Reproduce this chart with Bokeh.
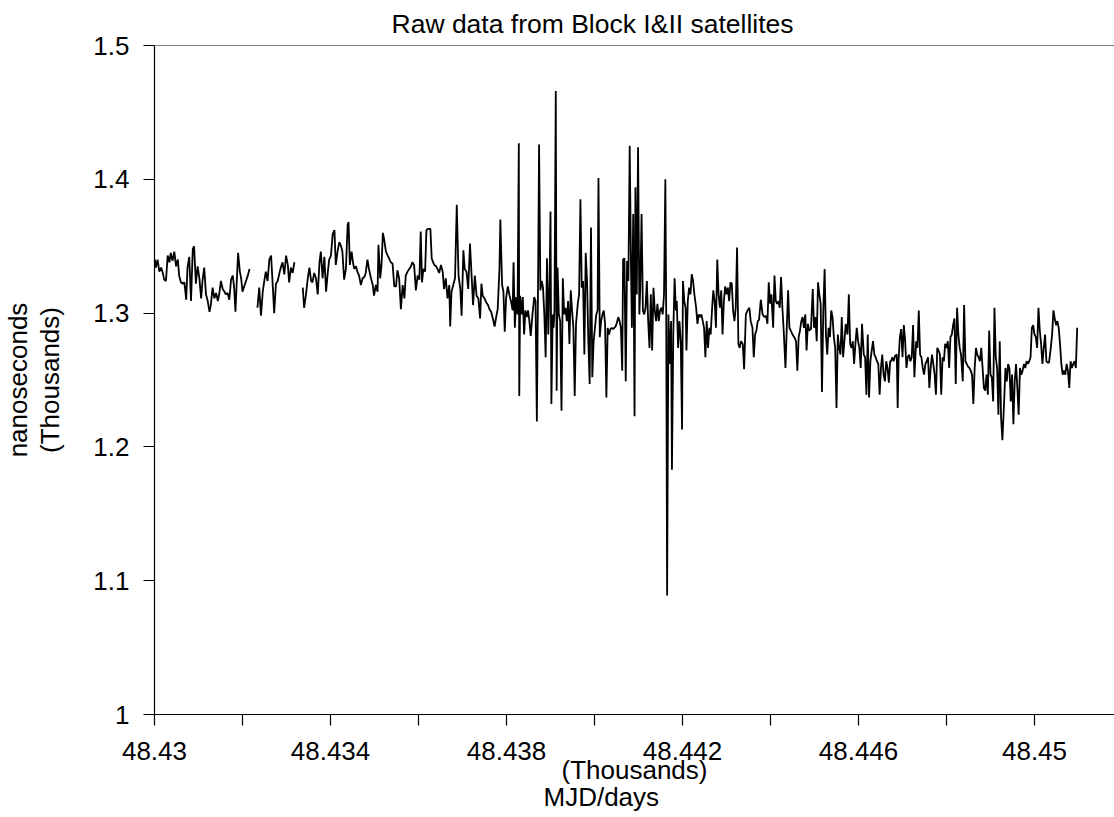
import numpy as np
from bokeh.plotting import figure
from bokeh.models import Range1d, FixedTicker, CustomJSTickFormatter, Span, ColumnDataSource, Title
from bokeh.embed import file_html
from bokeh.resources import INLINE

nan = float("nan")

# Raw clock data from Block I&II satellites
MJD_ORIGIN = 48430.0   # days

# time since MJD 48430 (days)
day_offset = [
    0.01, 0.03, 0.07, 0.11, 0.15, 0.19, 0.22, 0.26, 0.30, 0.34, 0.37, 0.41, 0.45, 0.49, 0.53, 0.56,
    0.60, 0.64, 0.68, 0.72, 0.75, 0.79, 0.83, 0.87, 0.90, 0.94, 0.98, 1.02, 1.06, 1.09, 1.13, 1.17,
    1.21, 1.25, 1.28, 1.32, 1.36, 1.40, 1.44, 1.47, 1.51, 1.55, 1.59, 1.62, 1.66, 1.70, 1.74, 1.78,
    1.81, 1.84, 1.87, 1.90, 1.94, 1.97, 2.00, 2.04, 2.08, 2.12, 2.16, 2.25,
    2.34, 2.38, 2.42, 2.46, 2.50, 2.53, 2.57, 2.61, 2.65, 2.69, 2.72, 2.76, 2.80, 2.84, 2.87, 2.91,
    2.95, 2.99, 3.03, 3.06, 3.10, 3.14, 3.18, 3.27,
    3.37, 3.40, 3.44, 3.48, 3.52, 3.56, 3.59, 3.63, 3.67, 3.71, 3.75, 3.78, 3.82, 3.86, 3.90, 3.94,
    3.97, 4.01, 4.05, 4.09,
    4.12, 4.16, 4.20, 4.24, 4.27, 4.31, 4.35, 4.39, 4.41, 4.44, 4.48, 4.51, 4.54, 4.58, 4.61, 4.65,
    4.69, 4.73, 4.77, 4.80, 4.84, 4.88, 4.92, 4.96, 4.99, 5.03, 5.07, 5.09, 5.13, 5.16, 5.19, 5.22,
    5.26, 5.30, 5.33, 5.37, 5.41, 5.45, 5.49, 5.52, 5.56, 5.60, 5.64, 5.68, 5.71, 5.75, 5.79, 5.83,
    5.86, 5.90, 5.94, 5.98, 6.02, 6.05, 6.08, 6.11, 6.15, 6.18, 6.22, 6.27, 6.30, 6.33, 6.36, 6.40,
    6.43, 6.47, 6.51, 6.55, 6.58, 6.62, 6.66, 6.70, 6.72, 6.75, 6.79, 6.83, 6.87, 6.91, 6.95, 6.98,
    7.02, 7.05, 7.09, 7.13, 7.17, 7.21, 7.24, 7.28, 7.32, 7.36, 7.40, 7.43, 7.46, 7.50, 7.54, 7.58,
    7.61, 7.65, 7.69, 7.73, 7.77, 7.80, 7.84, 7.86, 7.90, 7.93, 7.96, 7.99, 8.03, 8.07,
    8.10, 8.14, 8.16, 8.19, 8.22, 8.25, 8.28, 8.29, 8.31, 8.34, 8.37, 8.40, 8.43, 8.46, 8.49, 8.52,
    8.55, 8.59, 8.63, 8.66, 8.69, 8.72, 8.74, 8.77, 8.80, 8.83, 8.86, 8.89, 8.92, 8.95, 8.98, 9.00,
    9.02, 9.05, 9.07, 9.09, 9.12, 9.14, 9.16, 9.19, 9.22, 9.25, 9.28, 9.31, 9.34, 9.37, 9.40, 9.43,
    9.46, 9.49, 9.52, 9.55, 9.58, 9.62, 9.65, 9.68, 9.71, 9.74, 9.77, 9.80, 9.83, 9.86, 9.89, 9.92,
    9.95, 9.98, 10.01, 10.04, 10.07, 10.09, 10.12, 10.15, 10.18, 10.21, 10.24, 10.27, 10.30, 10.33,
    10.36, 10.39, 10.42, 10.45, 10.48, 10.51, 10.54, 10.57, 10.60, 10.63, 10.65, 10.68, 10.71, 10.74,
    10.77, 10.80, 10.83, 10.85, 10.88, 10.91, 10.93, 10.96, 10.99, 11.02, 11.04, 11.07, 11.10, 11.13,
    11.16, 11.19, 11.22, 11.25, 11.28, 11.31, 11.34, 11.37, 11.40, 11.43, 11.46, 11.49, 11.52, 11.55,
    11.58, 11.61, 11.63, 11.65, 11.68, 11.71, 11.74, 11.76, 11.79, 11.82, 11.85, 11.87, 11.90, 11.93,
    11.96, 11.99, 12.01, 12.04, 12.07, 12.09, 12.12, 12.15, 12.18, 12.21, 12.24, 12.27,
    12.31, 12.34, 12.37, 12.40, 12.43, 12.46, 12.49, 12.52, 12.55, 12.58, 12.61, 12.64, 12.67, 12.70,
    12.73, 12.76, 12.79, 12.82, 12.85, 12.88, 12.91, 12.94, 12.97, 13.00, 13.03, 13.06, 13.09, 13.12,
    13.15, 13.18, 13.21, 13.24, 13.27, 13.30, 13.33, 13.37, 13.40, 13.44, 13.48, 13.52, 13.55, 13.59,
    13.62, 13.65, 13.68, 13.71, 13.74, 13.78, 13.82, 13.86, 13.90, 13.93, 13.96, 13.99, 14.02, 14.06,
    14.09, 14.12, 14.15, 14.18, 14.21, 14.24, 14.27, 14.30, 14.34, 14.37, 14.40, 14.43, 14.46, 14.50,
    14.54, 14.58, 14.61, 14.64, 14.67, 14.70, 14.73, 14.76, 14.79, 14.82, 14.85, 14.88, 14.92, 14.96,
    14.99, 15.02, 15.05, 15.08, 15.11, 15.14, 15.17, 15.20, 15.23, 15.26, 15.29, 15.32, 15.35, 15.38,
    15.41, 15.44, 15.47, 15.50, 15.53, 15.56, 15.59, 15.62, 15.65, 15.68, 15.71, 15.75, 15.78, 15.81,
    15.84, 15.87, 15.90, 15.93, 15.96, 15.99, 16.02, 16.05, 16.08, 16.12, 16.15, 16.18, 16.21, 16.24,
    16.27, 16.30, 16.33, 16.36, 16.39, 16.42, 16.45, 16.48, 16.51, 16.54, 16.57, 16.60, 16.63, 16.66,
    16.69, 16.72,
    16.74, 16.77, 16.80, 16.83, 16.87, 16.89, 16.91, 16.94, 16.97, 17.00, 17.03, 17.06, 17.09, 17.12,
    17.15, 17.18, 17.21, 17.24, 17.27, 17.31, 17.34, 17.37, 17.40, 17.43, 17.46, 17.49, 17.52, 17.55,
    17.58, 17.61, 17.64, 17.67, 17.70, 17.73, 17.76, 17.79, 17.82, 17.85, 17.88, 17.91, 17.94, 17.97,
    18.00, 18.03, 18.06, 18.09, 18.12, 18.15, 18.18, 18.21, 18.24, 18.27, 18.30, 18.33, 18.37, 18.40,
    18.43, 18.46, 18.49, 18.52, 18.55, 18.58, 18.61, 18.64, 18.67, 18.70, 18.73, 18.76, 18.79, 18.82,
    18.85, 18.88, 18.91, 18.94, 18.97, 19.00, 19.03, 19.06, 19.09, 19.12, 19.15, 19.18, 19.21, 19.24,
    19.27, 19.31, 19.34, 19.37, 19.40, 19.43, 19.46, 19.49, 19.52, 19.55, 19.58, 19.61, 19.64, 19.67,
    19.70, 19.73, 19.76, 19.79, 19.82, 19.85, 19.88, 19.91, 19.94, 19.97, 20.00, 20.03, 20.06, 20.09,
    20.12, 20.15, 20.18, 20.21, 20.24, 20.27, 20.30, 20.33, 20.37, 20.40, 20.43, 20.46, 20.49, 20.52,
    20.55, 20.58, 20.61, 20.64, 20.67, 20.70, 20.73, 20.76, 20.79, 20.82, 20.85, 20.88, 20.91, 20.94,
    20.97,
]

# clock offset (nanoseconds); nan marks gaps in the record
clock_ns = [
    1340, 1334, 1340, 1331, 1334, 1330, 1325, 1324, 1343, 1338, 1345, 1339, 1346, 1335, 1340, 1328,
    1323, 1322, 1323, 1310, 1334, 1342, 1309, 1348, 1350, 1322, 1335, 1326, 1311, 1324, 1334, 1314,
    1309, 1301, 1306, 1319, 1311, 1315, 1309, 1314, 1324, 1318, 1316, 1314, 1315, 1310, 1325, 1328,
    1319, 1301, 1324, 1345, 1331, 1326, 1316, 1320, 1324, 1328, 1333, nan,
    1304, 1319, 1298, 1316, 1325, 1331, 1324, 1340, 1343, 1319, 1300, 1322, 1324, 1330, 1334, 1338,
    1329, 1343, 1336, 1323, 1334, 1330, 1338, nan,
    1319, 1304, 1313, 1325, 1334, 1324, 1323, 1330, 1326, 1314, 1338, 1346, 1326, 1342, 1316, 1331,
    1340, 1343, 1359, 1362,
    1336, 1346, 1353, 1350, 1346, 1325, 1333, 1366, 1368, 1336, 1346, 1338, 1333, 1335, 1331, 1328,
    1321, 1326, 1327, 1330, 1340, 1332, 1326, 1321, 1313, 1321, 1316, 1351, 1326, 1336, 1360, 1355,
    1346, 1343, 1341, 1338, 1337, 1320, 1320, 1332, 1326, 1303, 1321, 1311, 1328, 1331, 1333, 1335,
    1338, 1336, 1317, 1328, 1325, 1361, 1323, 1333, 1331, 1362, 1363, 1363, 1341, 1338, 1336, 1335,
    1333, 1330, 1336, 1331, 1318, 1326, 1311, 1321, 1290, 1316, 1321, 1326, 1381, 1328, 1318, 1298,
    1347, 1333, 1331, 1318, 1352, 1326, 1306, 1328, 1313, 1311, 1296, 1322, 1313, 1311, 1308, 1306,
    1303, 1301, 1296, 1290, 1298, 1303, 1333, 1370, 1321, 1316, 1286, 1311, 1320, 1313,
    1309, 1302, 1338, 1289, 1312, 1299, 1427, 1238, 1313, 1299, 1312, 1284, 1302, 1297, 1302, 1294,
    1283, 1299, 1312, 1309, 1219, 1334, 1426, 1317, 1324, 1319, 1299, 1267, 1341, 1284, 1326, 1376,
    1232, 1299, 1289, 1302, 1466, 1242, 1334, 1299, 1294, 1227, 1326, 1299, 1304, 1294, 1309, 1277,
    1317, 1302, 1289, 1238, 1292, 1307, 1314, 1385, 1319, 1324, 1269, 1345, 1324, 1279, 1247, 1364,
    1252, 1279, 1289, 1299, 1302, 1401, 1282, 1294, 1299, 1302, 1292, 1237, 1289, 1284,
    1288, 1289, 1288, 1289, 1290, 1293, 1297, 1294, 1289, 1257, 1340, 1341, 1249, 1339,
    1324, 1425, 1334, 1289, 1374, 1223, 1394, 1314, 1424, 1299, 1319, 1374, 1302, 1299,
    1304, 1324, 1294, 1274, 1314, 1272, 1319, 1302, 1294, 1307, 1294, 1302, 1304, 1299,
    1314, 1400, 1299, 1089, 1299, 1262, 1294, 1183, 1284, 1326, 1302, 1309, 1274, 1294,
    1279, 1213, 1324, 1309, 1304, 1272, 1309, 1319, 1314, 1329, 1324, 1314,
    1304, 1292, 1299, 1297, 1299, 1294, 1289, 1267, 1294, 1274, 1289, 1284, 1302, 1317,
    1309, 1289, 1340, 1314, 1304, 1317, 1284, 1309, 1320, 1314, 1319, 1309, 1323, 1322,
    1302, 1294, 1304, 1349, 1277, 1274, 1279, 1277, 1258, 1299, 1302, 1304, 1294, 1289,
    1267, 1284, 1287, 1294, 1295, 1310, 1299, 1297, 1298, 1292, 1323, 1307, 1314, 1289,
    1328, 1309, 1307, 1309, 1304, 1327, 1304, 1287, 1259, 1289, 1317, 1289, 1287, 1284,
    1282, 1279, 1257, 1282, 1287, 1294, 1297, 1289, 1299, 1272, 1292, 1287, 1288, 1318,
    1289, 1297, 1279, 1323, 1314, 1307, 1241, 1302, 1333, 1284, 1269, 1289, 1282, 1302,
    1297, 1282, 1274, 1229, 1284, 1274, 1269, 1297, 1267, 1279, 1292, 1284, 1314, 1277,
    1274, 1279, 1262, 1277, 1289, 1279, 1274, 1259, 1292, 1269, 1267, 1239, 1284, 1237,
    1264, 1272, 1279, 1269, 1267, 1264, 1262, 1239, 1259, 1269, 1254, 1249, 1264, 1259,
    1248, 1264,
    1264, 1267, 1264, 1268, 1269, 1229, 1264, 1282, 1288, 1267, 1291, 1279, 1259, 1267,
    1269, 1264, 1267, 1291, 1252, 1279, 1274, 1302, 1269, 1267, 1259, 1254, 1262, 1264,
    1267, 1244, 1259, 1269, 1262, 1254, 1239, 1274, 1272, 1269, 1239, 1267, 1264, 1277,
    1274, 1279, 1259, 1282, 1284, 1291, 1296, 1247, 1304, 1284, 1274, 1269, 1249, 1306,
    1264, 1262, 1260, 1259, 1257, 1254, 1232, 1259, 1274, 1269, 1267, 1264, 1274, 1259,
    1244, 1242, 1254, 1239, 1287, 1254, 1252, 1234, 1304, 1267, 1259, 1224, 1279, 1222,
    1205, 1234, 1259, 1249, 1262, 1259, 1234, 1254, 1217, 1249, 1262, 1244, 1224, 1259,
    1254, 1257, 1262, 1259, 1264, 1262, 1264, 1267, 1289, 1291, 1284, 1282, 1274, 1304,
    1287, 1277, 1262, 1274, 1284, 1264, 1263, 1263, 1274, 1284, 1302, 1296, 1291, 1294,
    1289, 1277, 1262, 1254, 1257, 1254, 1262, 1257, 1244, 1264, 1259, 1262, 1264, 1259,
    1289,
]

x_ticks = [48.430, 48.434, 48.438, 48.442, 48.446, 48.450]
x_minor_ticks = [48.432, 48.436, 48.440, 48.444, 48.448]
y_ticks = [1.0, 1.1, 1.2, 1.3, 1.4, 1.5]

title_text = "Raw data from Block I&II satellites"
x_label_unit = "(Thousands)"
x_label = "MJD/days"
y_label = "nanoseconds"
y_label_unit = "(Thousands)"

FONT = "Liberation Sans"

# the chart shows both axes in thousands
xs = (MJD_ORIGIN + np.array(day_offset, dtype=float)) / 1000.0
ys = np.array(clock_ns, dtype=float) / 1000.0
src = ColumnDataSource(data=dict(x=xs, y=ys))

p = figure(width=1114, height=817, output_backend="svg", toolbar_location=None,
           x_range=Range1d(48.430, 48.451818), y_range=Range1d(1.0, 1.5),
           min_border_left=154, min_border_right=0, min_border_top=45, min_border_bottom=103)
p.outline_line_color = None
p.grid.visible = False
p.background_fill_color = "white"
p.border_fill_color = "white"

p.line("x", "y", source=src, line_color="black", line_width=1.8)

p.add_layout(Span(location=1.5, dimension="width", line_color="black", line_width=1.2))

fmt = CustomJSTickFormatter(code="return String(Math.round(tick*1000)/1000);")

for ax in (p.xaxis[0], p.yaxis[0]):
    ax.formatter = fmt
    ax.axis_line_color = "black"
    ax.axis_line_width = 1.2
    ax.major_tick_line_color = "black"
    ax.major_tick_line_width = 1.2
    ax.major_tick_out = 11
    ax.major_tick_in = 0
    ax.minor_tick_line_color = "black"
    ax.minor_tick_line_width = 1.2
    ax.minor_tick_out = 11
    ax.minor_tick_in = 0
    ax.major_label_text_font = FONT
    ax.major_label_text_font_size = "26px"
    ax.major_label_text_color = "black"
    ax.axis_label_text_font = FONT
    ax.axis_label_text_font_size = "26px"
    ax.axis_label_text_font_style = "normal"
    ax.axis_label_text_color = "black"

p.xaxis[0].ticker = FixedTicker(ticks=x_ticks, minor_ticks=x_minor_ticks)
p.xaxis[0].major_label_standoff = 16
p.xaxis[0].axis_label = x_label_unit
p.xaxis[0].axis_label_standoff = -8

p.yaxis[0].ticker = FixedTicker(ticks=y_ticks, minor_ticks=[])
p.yaxis[0].major_label_standoff = 14
p.yaxis[0].axis_label = y_label_unit
p.yaxis[0].axis_label_standoff = 25

p.title.text = title_text
p.title.align = "left"
p.title.offset = 237
p.title.standoff = 13
p.title.text_font = FONT
p.title.text_font_size = "26.5px"
p.title.text_font_style = "normal"
p.title.text_color = "black"

p.add_layout(Title(text=x_label, align="left", offset=389, standoff=-16,
                   text_font=FONT, text_font_size="26px", text_font_style="normal",
                   text_color="black"), "below")
p.add_layout(Title(text=y_label, align="center", standoff=0,
                   text_font=FONT, text_font_size="26px", text_font_style="normal",
                   text_color="black"), "left")

open("out.html", "w").write(file_html(p, INLINE))
